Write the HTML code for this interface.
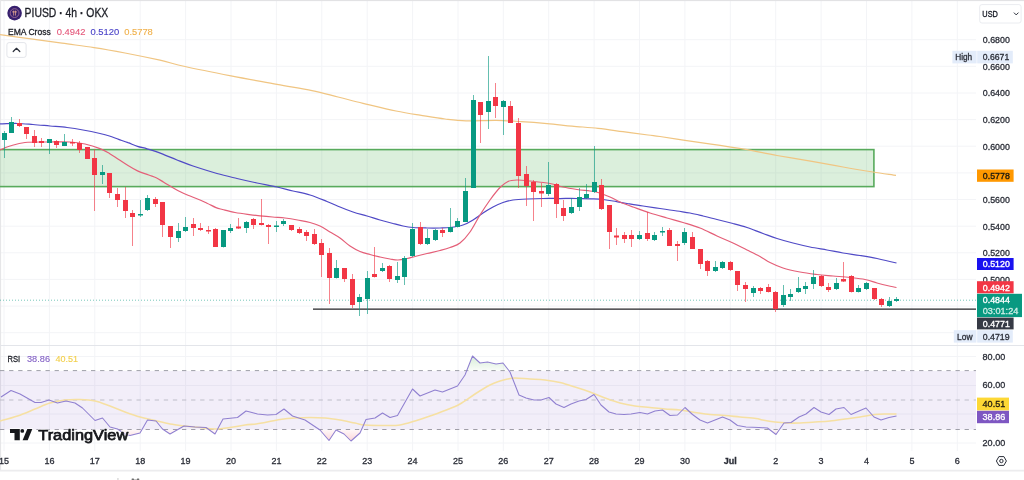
<!DOCTYPE html>
<html lang="en"><head><meta charset="utf-8"><title>PIUSD 4h OKX - TradingView</title>
<style>
html,body{margin:0;padding:0;background:#fff;}
body{width:1024px;height:480px;overflow:hidden;position:relative;font-family:"Liberation Sans",sans-serif;}
svg text{font-family:"Liberation Sans",sans-serif;}
svg{filter:blur(0.45px);}
</style></head><body>
<svg width="1024" height="480" viewBox="0 0 1024 480" style="position:absolute;left:0;top:0;font-family:'Liberation Sans',sans-serif">
<rect x="0" y="0" width="1024" height="480" fill="#fff"/>
<line x1="4.0" y1="1" x2="4.0" y2="451" stroke="#f3f4f7" stroke-width="1"/>
<line x1="49.4" y1="1" x2="49.4" y2="451" stroke="#f3f4f7" stroke-width="1"/>
<line x1="94.8" y1="1" x2="94.8" y2="451" stroke="#f3f4f7" stroke-width="1"/>
<line x1="140.2" y1="1" x2="140.2" y2="451" stroke="#f3f4f7" stroke-width="1"/>
<line x1="185.6" y1="1" x2="185.6" y2="451" stroke="#f3f4f7" stroke-width="1"/>
<line x1="231.0" y1="1" x2="231.0" y2="451" stroke="#f3f4f7" stroke-width="1"/>
<line x1="276.4" y1="1" x2="276.4" y2="451" stroke="#f3f4f7" stroke-width="1"/>
<line x1="321.8" y1="1" x2="321.8" y2="451" stroke="#f3f4f7" stroke-width="1"/>
<line x1="367.2" y1="1" x2="367.2" y2="451" stroke="#f3f4f7" stroke-width="1"/>
<line x1="412.6" y1="1" x2="412.6" y2="451" stroke="#f3f4f7" stroke-width="1"/>
<line x1="458.0" y1="1" x2="458.0" y2="451" stroke="#f3f4f7" stroke-width="1"/>
<line x1="503.3" y1="1" x2="503.3" y2="451" stroke="#f3f4f7" stroke-width="1"/>
<line x1="548.7" y1="1" x2="548.7" y2="451" stroke="#f3f4f7" stroke-width="1"/>
<line x1="594.1" y1="1" x2="594.1" y2="451" stroke="#f3f4f7" stroke-width="1"/>
<line x1="639.5" y1="1" x2="639.5" y2="451" stroke="#f3f4f7" stroke-width="1"/>
<line x1="684.9" y1="1" x2="684.9" y2="451" stroke="#f3f4f7" stroke-width="1"/>
<line x1="730.3" y1="1" x2="730.3" y2="451" stroke="#f3f4f7" stroke-width="1"/>
<line x1="775.7" y1="1" x2="775.7" y2="451" stroke="#f3f4f7" stroke-width="1"/>
<line x1="821.1" y1="1" x2="821.1" y2="451" stroke="#f3f4f7" stroke-width="1"/>
<line x1="866.5" y1="1" x2="866.5" y2="451" stroke="#f3f4f7" stroke-width="1"/>
<line x1="911.9" y1="1" x2="911.9" y2="451" stroke="#f3f4f7" stroke-width="1"/>
<line x1="957.3" y1="1" x2="957.3" y2="451" stroke="#f3f4f7" stroke-width="1"/>
<line x1="0" y1="39.7" x2="976" y2="39.7" stroke="#f3f4f7" stroke-width="1"/>
<line x1="0" y1="66.3" x2="976" y2="66.3" stroke="#f3f4f7" stroke-width="1"/>
<line x1="0" y1="93.0" x2="976" y2="93.0" stroke="#f3f4f7" stroke-width="1"/>
<line x1="0" y1="119.6" x2="976" y2="119.6" stroke="#f3f4f7" stroke-width="1"/>
<line x1="0" y1="146.2" x2="976" y2="146.2" stroke="#f3f4f7" stroke-width="1"/>
<line x1="0" y1="172.9" x2="976" y2="172.9" stroke="#f3f4f7" stroke-width="1"/>
<line x1="0" y1="199.5" x2="976" y2="199.5" stroke="#f3f4f7" stroke-width="1"/>
<line x1="0" y1="226.2" x2="976" y2="226.2" stroke="#f3f4f7" stroke-width="1"/>
<line x1="0" y1="252.8" x2="976" y2="252.8" stroke="#f3f4f7" stroke-width="1"/>
<line x1="0" y1="279.4" x2="976" y2="279.4" stroke="#f3f4f7" stroke-width="1"/>
<line x1="0" y1="306.1" x2="976" y2="306.1" stroke="#f3f4f7" stroke-width="1"/>
<line x1="0" y1="332.7" x2="976" y2="332.7" stroke="#f3f4f7" stroke-width="1"/>
<line x1="0" y1="356.5" x2="976" y2="356.5" stroke="#f3f4f7" stroke-width="1"/>
<line x1="0" y1="385.5" x2="976" y2="385.5" stroke="#f3f4f7" stroke-width="1"/>
<line x1="0" y1="414" x2="976" y2="414" stroke="#f3f4f7" stroke-width="1"/>
<line x1="0" y1="443" x2="976" y2="443" stroke="#f3f4f7" stroke-width="1"/>
<rect x="0" y="0" width="1024" height="1.1" fill="#e2e2e4"/>
<rect x="0" y="0" width="1.1" height="470" fill="#e6e6e8"/>
<line x1="0" y1="345.5" x2="1024" y2="345.5" stroke="#e3e5ea" stroke-width="1.2"/>
<line x1="0" y1="470.6" x2="1024" y2="470.6" stroke="#ececee" stroke-width="1.7"/>
<rect x="-5" y="149.6" width="878.9" height="37" fill="#4caf50" fill-opacity="0.2" stroke="#58aa5c" stroke-width="1.6"/>
<path d="M0.0,34.6 C5.2,35.3 20.7,37.5 31.0,38.9 C41.3,40.3 51.5,41.8 62.0,43.2 C72.5,44.7 83.5,46.0 94.0,47.6 C104.5,49.2 114.0,50.9 125.0,53.0 C136.0,55.1 150.0,58.0 160.0,60.2 C170.0,62.5 173.2,63.9 185.0,66.5 C196.8,69.1 215.7,72.9 231.0,75.9 C246.3,78.9 263.5,81.8 277.0,84.3 C290.5,86.8 301.8,88.5 312.0,90.6 C322.2,92.7 329.5,94.9 338.0,97.0 C346.5,99.1 353.3,101.0 363.0,103.3 C372.7,105.6 386.5,109.0 396.0,111.0 C405.5,113.0 411.8,113.9 420.0,115.2 C428.2,116.5 437.3,118.1 445.0,119.0 C452.7,119.9 457.5,120.6 466.0,120.8 C474.5,121.0 486.8,120.3 496.0,120.4 C505.2,120.5 512.5,121.1 521.0,121.6 C529.5,122.1 538.5,122.8 547.0,123.6 C555.5,124.3 563.5,125.3 572.0,126.1 C580.5,126.9 589.5,127.5 598.0,128.4 C606.5,129.3 614.7,130.6 623.0,131.7 C631.3,132.8 641.8,134.2 648.0,135.0 C654.2,135.8 653.8,135.6 660.0,136.5 C666.2,137.4 676.5,139.0 685.0,140.3 C693.5,141.6 701.2,142.6 711.0,144.1 C720.8,145.6 733.0,147.3 744.0,149.2 C755.0,151.1 765.7,153.5 777.0,155.5 C788.3,157.5 801.0,159.5 812.0,161.4 C823.0,163.3 832.8,165.2 843.0,167.0 C853.2,168.8 864.2,170.6 873.0,172.0 C881.8,173.4 892.2,174.8 896.0,175.4" fill="none" stroke="#f0c582" stroke-width="1.2" stroke-linejoin="round"/>
<line x1="0" y1="300.2" x2="976" y2="300.2" stroke="#089981" stroke-width="1" stroke-dasharray="1 2" opacity="0.55"/>
<line x1="313" y1="309" x2="976" y2="309" stroke="#222226" stroke-width="1.25"/>
<path d="M0.0,124.0 C2.8,123.9 11.5,123.4 17.0,123.5 C22.5,123.6 27.5,124.1 33.0,124.5 C38.5,124.9 44.3,125.5 50.0,126.0 C55.7,126.5 61.5,126.8 67.0,127.5 C72.5,128.2 77.5,129.0 83.0,130.0 C88.5,131.0 95.6,132.5 100.0,133.5 C104.4,134.5 106.3,135.0 109.4,136.0 C112.5,137.0 115.6,138.3 118.7,139.4 C121.8,140.5 124.9,141.5 128.0,142.7 C131.1,143.8 134.3,145.3 137.5,146.3 C140.7,147.3 143.9,147.9 147.0,148.8 C150.1,149.7 153.1,150.5 156.2,151.6 C159.3,152.7 162.1,153.9 165.6,155.3 C169.1,156.7 172.4,158.2 177.0,160.0 C181.6,161.8 186.3,163.8 193.0,166.0 C199.7,168.2 209.7,171.4 217.0,173.5 C224.3,175.6 230.3,176.9 237.0,178.5 C243.7,180.1 250.3,181.6 257.0,183.0 C263.7,184.4 271.0,185.7 277.0,187.0 C283.0,188.3 287.5,189.7 293.0,191.0 C298.5,192.3 304.3,193.2 310.0,195.0 C315.7,196.8 322.0,199.5 327.0,201.5 C332.0,203.5 335.7,205.2 340.0,207.0 C344.3,208.8 348.5,210.5 353.0,212.0 C357.5,213.5 362.5,214.7 367.0,216.0 C371.5,217.3 375.7,218.8 380.0,220.0 C384.3,221.2 389.2,222.5 393.0,223.5 C396.8,224.5 399.7,225.3 403.0,226.0 C406.3,226.7 409.0,227.2 413.0,227.5 C417.0,227.8 422.5,227.9 427.0,228.0 C431.5,228.1 436.2,228.1 440.0,228.0 C443.8,227.9 446.2,228.0 450.0,227.5 C453.8,227.0 459.2,226.2 463.0,225.0 C466.8,223.8 469.7,222.0 473.0,220.0 C476.3,218.0 479.7,215.2 483.0,213.0 C486.3,210.8 489.7,208.8 493.0,207.0 C496.3,205.2 499.7,203.7 503.0,202.5 C506.3,201.3 509.0,200.6 513.0,200.0 C517.0,199.4 522.0,199.2 527.0,199.0 C532.0,198.8 537.5,198.6 543.0,198.5 C548.5,198.4 554.3,198.5 560.0,198.5 C565.7,198.5 571.5,198.4 577.0,198.5 C582.5,198.6 588.7,198.6 593.0,198.8 C597.3,199.0 599.7,199.1 603.0,199.5 C606.3,199.9 609.0,200.3 613.0,201.0 C617.0,201.7 622.0,202.7 627.0,203.5 C632.0,204.3 637.5,205.2 643.0,206.0 C648.5,206.8 654.3,207.7 660.0,208.5 C665.7,209.3 672.0,210.2 677.0,211.0 C682.0,211.8 685.7,212.2 690.0,213.0 C694.3,213.8 698.5,214.9 703.0,216.0 C707.5,217.1 712.0,218.2 717.0,219.5 C722.0,220.8 728.0,222.2 733.0,223.5 C738.0,224.8 742.0,225.8 747.0,227.5 C752.0,229.2 758.0,231.7 763.0,233.5 C768.0,235.3 772.0,236.9 777.0,238.5 C782.0,240.1 787.5,241.6 793.0,243.0 C798.5,244.4 804.3,245.8 810.0,247.0 C815.7,248.2 821.5,249.0 827.0,250.0 C832.5,251.0 837.5,252.1 843.0,253.0 C848.5,253.9 854.3,254.6 860.0,255.5 C865.7,256.4 870.9,257.2 877.0,258.5 C883.1,259.8 893.2,262.2 896.5,263.0" fill="none" stroke="#504ac6" stroke-width="1.25" stroke-linejoin="round"/>
<path d="M0.0,150.0 C1.7,149.3 5.8,147.2 10.0,146.0 C14.2,144.8 18.3,143.2 25.0,142.5 C31.7,141.8 42.5,142.1 50.0,142.0 C57.5,141.9 64.2,141.7 70.0,142.0 C75.8,142.3 80.0,142.9 85.0,144.0 C90.0,145.1 95.9,147.0 100.0,148.6 C104.1,150.2 106.3,151.6 109.4,153.4 C112.5,155.2 115.6,157.6 118.7,159.6 C121.8,161.6 124.9,163.7 128.0,165.6 C131.1,167.5 134.1,169.3 137.5,170.9 C140.9,172.5 145.6,173.8 148.7,175.0 C151.8,176.2 153.7,176.6 156.2,177.8 C158.7,179.0 161.2,180.7 163.7,182.2 C166.2,183.7 168.7,185.3 171.2,186.8 C173.7,188.3 175.9,189.6 178.7,191.0 C181.5,192.4 184.9,194.0 188.0,195.3 C191.1,196.6 194.3,197.7 197.5,199.0 C200.7,200.3 203.9,201.8 207.0,203.2 C210.1,204.6 213.4,206.5 216.0,207.6 C218.6,208.7 219.3,208.7 222.5,209.5 C225.7,210.3 230.8,211.7 235.0,212.5 C239.2,213.3 243.3,213.8 247.5,214.3 C251.7,214.9 255.8,215.4 260.0,215.8 C264.2,216.2 268.3,216.6 272.5,217.0 C276.7,217.4 280.8,217.5 285.0,218.0 C289.2,218.5 293.3,219.2 297.5,220.0 C301.7,220.8 306.2,221.5 310.0,222.5 C313.8,223.5 316.7,224.4 320.0,226.0 C323.3,227.6 326.7,230.0 330.0,232.0 C333.3,234.0 336.7,235.7 340.0,238.0 C343.3,240.3 346.7,243.8 350.0,246.0 C353.3,248.2 356.7,250.1 360.0,251.5 C363.3,252.9 366.7,253.6 370.0,254.5 C373.3,255.4 376.7,256.2 380.0,257.0 C383.3,257.8 387.0,258.5 390.0,259.0 C393.0,259.5 395.2,260.1 398.0,260.0 C400.8,259.9 404.2,259.1 407.0,258.5 C409.8,257.9 411.7,257.3 415.0,256.5 C418.3,255.7 422.8,254.5 427.0,253.5 C431.2,252.5 436.2,251.5 440.0,250.5 C443.8,249.5 446.7,248.8 450.0,247.5 C453.3,246.2 456.7,245.6 460.0,243.0 C463.3,240.4 466.7,236.7 470.0,232.0 C473.3,227.3 476.7,220.3 480.0,215.0 C483.3,209.7 486.7,204.6 490.0,200.0 C493.3,195.4 497.0,190.6 500.0,187.5 C503.0,184.4 505.2,182.8 508.0,181.5 C510.8,180.2 513.3,180.1 517.0,180.0 C520.7,179.9 524.5,180.4 530.0,181.0 C535.5,181.6 544.5,182.5 550.0,183.5 C555.5,184.5 558.5,186.0 563.0,187.0 C567.5,188.0 572.5,188.8 577.0,189.5 C581.5,190.2 586.5,190.5 590.0,191.0 C593.5,191.5 594.7,191.5 598.0,192.5 C601.3,193.5 606.3,195.4 610.0,197.0 C613.7,198.6 616.2,200.3 620.0,202.0 C623.8,203.7 628.0,205.2 633.0,207.0 C638.0,208.8 644.3,211.2 650.0,213.0 C655.7,214.8 661.5,216.4 667.0,218.0 C672.5,219.6 677.5,220.8 683.0,222.5 C688.5,224.2 694.3,225.8 700.0,228.0 C705.7,230.2 711.5,233.5 717.0,236.0 C722.5,238.5 728.0,240.7 733.0,243.0 C738.0,245.3 742.5,247.8 747.0,250.0 C751.5,252.2 756.2,254.4 760.0,256.5 C763.8,258.6 766.2,260.6 770.0,262.5 C773.8,264.4 778.0,266.4 783.0,268.0 C788.0,269.6 794.3,270.9 800.0,272.0 C805.7,273.1 811.5,273.8 817.0,274.5 C822.5,275.2 827.5,275.5 833.0,276.0 C838.5,276.5 844.7,276.9 850.0,277.5 C855.3,278.1 860.5,278.6 865.0,279.5 C869.5,280.4 873.3,282.0 877.0,283.0 C880.7,284.0 883.8,284.8 887.0,285.5 C890.2,286.2 894.9,287.2 896.5,287.5" fill="none" stroke="#e45f78" stroke-width="1.2" stroke-linejoin="round"/>
<line x1="4.50" y1="131" x2="4.50" y2="158" stroke="#089981" stroke-width="1" opacity="0.62"/>
<rect x="2.00" y="133" width="5.0" height="7.0" fill="#089981"/>
<line x1="11.50" y1="117" x2="11.50" y2="133" stroke="#089981" stroke-width="1" opacity="0.62"/>
<rect x="9.00" y="122" width="5.0" height="11.0" fill="#089981"/>
<line x1="19.50" y1="119" x2="19.50" y2="127" stroke="#f23645" stroke-width="1" opacity="0.62"/>
<rect x="17.00" y="123" width="5.0" height="3.0" fill="#f23645"/>
<line x1="26.50" y1="127" x2="26.50" y2="139" stroke="#f23645" stroke-width="1" opacity="0.62"/>
<rect x="24.00" y="127" width="5.0" height="7.0" fill="#f23645"/>
<line x1="34.50" y1="130" x2="34.50" y2="147" stroke="#f23645" stroke-width="1" opacity="0.62"/>
<rect x="32.00" y="136" width="5.0" height="7.0" fill="#f23645"/>
<line x1="41.50" y1="138" x2="41.50" y2="147" stroke="#f23645" stroke-width="1" opacity="0.62"/>
<rect x="39.00" y="141" width="5.0" height="2.0" fill="#f23645"/>
<line x1="49.50" y1="139" x2="49.50" y2="154" stroke="#089981" stroke-width="1" opacity="0.62"/>
<rect x="47.00" y="139" width="5.0" height="4.0" fill="#089981"/>
<line x1="56.50" y1="140" x2="56.50" y2="148" stroke="#f23645" stroke-width="1" opacity="0.62"/>
<rect x="54.00" y="141" width="5.0" height="4.0" fill="#f23645"/>
<line x1="64.50" y1="134" x2="64.50" y2="146" stroke="#089981" stroke-width="1" opacity="0.62"/>
<rect x="62.00" y="142" width="5.0" height="4.0" fill="#089981"/>
<line x1="72.50" y1="139" x2="72.50" y2="146" stroke="#f23645" stroke-width="1" opacity="0.62"/>
<rect x="70.00" y="142" width="5.0" height="1.5" fill="#f23645"/>
<line x1="79.50" y1="141" x2="79.50" y2="153" stroke="#f23645" stroke-width="1" opacity="0.62"/>
<rect x="77.00" y="143" width="5.0" height="7.0" fill="#f23645"/>
<line x1="87.50" y1="147" x2="87.50" y2="159" stroke="#f23645" stroke-width="1" opacity="0.62"/>
<rect x="85.00" y="147" width="5.0" height="12.0" fill="#f23645"/>
<line x1="94.50" y1="149" x2="94.50" y2="211" stroke="#f23645" stroke-width="1" opacity="0.62"/>
<rect x="92.00" y="158" width="5.0" height="17.0" fill="#f23645"/>
<line x1="102.50" y1="165" x2="102.50" y2="184" stroke="#089981" stroke-width="1" opacity="0.62"/>
<rect x="100.00" y="172" width="5.0" height="3.0" fill="#089981"/>
<line x1="109.50" y1="173" x2="109.50" y2="198" stroke="#f23645" stroke-width="1" opacity="0.62"/>
<rect x="107.00" y="173" width="5.0" height="20.0" fill="#f23645"/>
<line x1="117.50" y1="188" x2="117.50" y2="207" stroke="#f23645" stroke-width="1" opacity="0.62"/>
<rect x="115.00" y="194" width="5.0" height="6.0" fill="#f23645"/>
<line x1="125.50" y1="187" x2="125.50" y2="218" stroke="#f23645" stroke-width="1" opacity="0.62"/>
<rect x="123.00" y="200" width="5.0" height="11.0" fill="#f23645"/>
<line x1="132.50" y1="210" x2="132.50" y2="246" stroke="#f23645" stroke-width="1" opacity="0.62"/>
<rect x="130.00" y="213" width="5.0" height="4.0" fill="#f23645"/>
<line x1="140.50" y1="200" x2="140.50" y2="217" stroke="#089981" stroke-width="1" opacity="0.62"/>
<rect x="138.00" y="214" width="5.0" height="1.5" fill="#089981"/>
<line x1="147.50" y1="195" x2="147.50" y2="211" stroke="#089981" stroke-width="1" opacity="0.62"/>
<rect x="145.00" y="198" width="5.0" height="12.0" fill="#089981"/>
<line x1="155.50" y1="197" x2="155.50" y2="207" stroke="#f23645" stroke-width="1" opacity="0.62"/>
<rect x="153.00" y="199" width="5.0" height="5.0" fill="#f23645"/>
<line x1="162.50" y1="202" x2="162.50" y2="237" stroke="#f23645" stroke-width="1" opacity="0.62"/>
<rect x="160.00" y="202" width="5.0" height="23.0" fill="#f23645"/>
<line x1="170.50" y1="226" x2="170.50" y2="248" stroke="#f23645" stroke-width="1" opacity="0.62"/>
<rect x="168.00" y="226" width="5.0" height="11.0" fill="#f23645"/>
<line x1="178.50" y1="223" x2="178.50" y2="242" stroke="#089981" stroke-width="1" opacity="0.62"/>
<rect x="176.00" y="231" width="5.0" height="7.0" fill="#089981"/>
<line x1="185.50" y1="217" x2="185.50" y2="232" stroke="#089981" stroke-width="1" opacity="0.62"/>
<rect x="183.00" y="227" width="5.0" height="4.0" fill="#089981"/>
<line x1="193.50" y1="218" x2="193.50" y2="236" stroke="#f23645" stroke-width="1" opacity="0.62"/>
<rect x="191.00" y="224" width="5.0" height="4.0" fill="#f23645"/>
<line x1="200.50" y1="223" x2="200.50" y2="231" stroke="#f23645" stroke-width="1" opacity="0.62"/>
<rect x="198.00" y="228" width="5.0" height="2.0" fill="#f23645"/>
<line x1="208.50" y1="226" x2="208.50" y2="234" stroke="#f23645" stroke-width="1" opacity="0.62"/>
<rect x="206.00" y="230" width="5.0" height="1.5" fill="#f23645"/>
<line x1="215.50" y1="228" x2="215.50" y2="247" stroke="#f23645" stroke-width="1" opacity="0.62"/>
<rect x="213.00" y="229" width="5.0" height="18.0" fill="#f23645"/>
<line x1="223.50" y1="230" x2="223.50" y2="247.5" stroke="#089981" stroke-width="1" opacity="0.62"/>
<rect x="221.00" y="230" width="5.0" height="17.0" fill="#089981"/>
<line x1="230.50" y1="224" x2="230.50" y2="233" stroke="#089981" stroke-width="1" opacity="0.62"/>
<rect x="228.00" y="228" width="5.0" height="3.0" fill="#089981"/>
<line x1="238.50" y1="218" x2="238.50" y2="229" stroke="#f23645" stroke-width="1" opacity="0.62"/>
<rect x="236.00" y="226.5" width="5.0" height="2.0" fill="#f23645"/>
<line x1="246.50" y1="221" x2="246.50" y2="233" stroke="#089981" stroke-width="1" opacity="0.62"/>
<rect x="244.00" y="222" width="5.0" height="6.0" fill="#089981"/>
<line x1="253.50" y1="218" x2="253.50" y2="229" stroke="#f23645" stroke-width="1" opacity="0.62"/>
<rect x="251.00" y="219" width="5.0" height="6.0" fill="#f23645"/>
<line x1="261.50" y1="199" x2="261.50" y2="225.5" stroke="#f23645" stroke-width="1" opacity="0.62"/>
<rect x="259.00" y="223" width="5.0" height="2.0" fill="#f23645"/>
<line x1="268.50" y1="224" x2="268.50" y2="244" stroke="#f23645" stroke-width="1" opacity="0.62"/>
<rect x="266.00" y="225" width="5.0" height="2.0" fill="#f23645"/>
<line x1="276.50" y1="221" x2="276.50" y2="232" stroke="#089981" stroke-width="1" opacity="0.62"/>
<rect x="274.00" y="225.5" width="5.0" height="1.5" fill="#089981"/>
<line x1="283.50" y1="219" x2="283.50" y2="226" stroke="#089981" stroke-width="1" opacity="0.62"/>
<rect x="281.00" y="221" width="5.0" height="3.0" fill="#089981"/>
<line x1="291.50" y1="225" x2="291.50" y2="231" stroke="#f23645" stroke-width="1" opacity="0.62"/>
<rect x="289.00" y="225" width="5.0" height="5.0" fill="#f23645"/>
<line x1="299.50" y1="227" x2="299.50" y2="234" stroke="#f23645" stroke-width="1" opacity="0.62"/>
<rect x="297.00" y="229" width="5.0" height="4.0" fill="#f23645"/>
<line x1="306.50" y1="230" x2="306.50" y2="241" stroke="#f23645" stroke-width="1" opacity="0.62"/>
<rect x="304.00" y="232" width="5.0" height="4.0" fill="#f23645"/>
<line x1="314.50" y1="229" x2="314.50" y2="245" stroke="#f23645" stroke-width="1" opacity="0.62"/>
<rect x="312.00" y="234" width="5.0" height="10.0" fill="#f23645"/>
<line x1="321.50" y1="239" x2="321.50" y2="277" stroke="#f23645" stroke-width="1" opacity="0.62"/>
<rect x="319.00" y="243" width="5.0" height="12.0" fill="#f23645"/>
<line x1="329.50" y1="248" x2="329.50" y2="304" stroke="#f23645" stroke-width="1" opacity="0.62"/>
<rect x="327.00" y="253" width="5.0" height="25.0" fill="#f23645"/>
<line x1="336.50" y1="260" x2="336.50" y2="278.5" stroke="#089981" stroke-width="1" opacity="0.62"/>
<rect x="334.00" y="268" width="5.0" height="10.0" fill="#089981"/>
<line x1="344.50" y1="268" x2="344.50" y2="282" stroke="#f23645" stroke-width="1" opacity="0.62"/>
<rect x="342.00" y="268" width="5.0" height="11.0" fill="#f23645"/>
<line x1="352.50" y1="274" x2="352.50" y2="308" stroke="#f23645" stroke-width="1" opacity="0.62"/>
<rect x="350.00" y="279" width="5.0" height="26.0" fill="#f23645"/>
<line x1="359.50" y1="294" x2="359.50" y2="316" stroke="#089981" stroke-width="1" opacity="0.62"/>
<rect x="357.00" y="297" width="5.0" height="5.0" fill="#089981"/>
<line x1="367.50" y1="271" x2="367.50" y2="314" stroke="#089981" stroke-width="1" opacity="0.62"/>
<rect x="365.00" y="278" width="5.0" height="21.0" fill="#089981"/>
<line x1="374.50" y1="247" x2="374.50" y2="277.5" stroke="#f23645" stroke-width="1" opacity="0.62"/>
<rect x="372.00" y="274" width="5.0" height="3.0" fill="#f23645"/>
<line x1="382.50" y1="263" x2="382.50" y2="272" stroke="#089981" stroke-width="1" opacity="0.62"/>
<rect x="380.00" y="268" width="5.0" height="3.0" fill="#089981"/>
<line x1="389.50" y1="265" x2="389.50" y2="282" stroke="#f23645" stroke-width="1" opacity="0.62"/>
<rect x="387.00" y="266" width="5.0" height="13.0" fill="#f23645"/>
<line x1="397.50" y1="262" x2="397.50" y2="283" stroke="#089981" stroke-width="1" opacity="0.62"/>
<rect x="395.00" y="276" width="5.0" height="4.0" fill="#089981"/>
<line x1="404.50" y1="256" x2="404.50" y2="285" stroke="#089981" stroke-width="1" opacity="0.62"/>
<rect x="402.00" y="258" width="5.0" height="19.0" fill="#089981"/>
<line x1="412.50" y1="223" x2="412.50" y2="257" stroke="#089981" stroke-width="1" opacity="0.62"/>
<rect x="410.00" y="229" width="5.0" height="27.0" fill="#089981"/>
<line x1="420.50" y1="222" x2="420.50" y2="245" stroke="#f23645" stroke-width="1" opacity="0.62"/>
<rect x="418.00" y="227" width="5.0" height="17.0" fill="#f23645"/>
<line x1="427.50" y1="229" x2="427.50" y2="245" stroke="#089981" stroke-width="1" opacity="0.62"/>
<rect x="425.00" y="238" width="5.0" height="6.0" fill="#089981"/>
<line x1="435.50" y1="229" x2="435.50" y2="241" stroke="#089981" stroke-width="1" opacity="0.62"/>
<rect x="433.00" y="230" width="5.0" height="10.0" fill="#089981"/>
<line x1="442.50" y1="228" x2="442.50" y2="237" stroke="#f23645" stroke-width="1" opacity="0.62"/>
<rect x="440.00" y="230" width="5.0" height="3.0" fill="#f23645"/>
<line x1="450.50" y1="208" x2="450.50" y2="232.5" stroke="#089981" stroke-width="1" opacity="0.62"/>
<rect x="448.00" y="227" width="5.0" height="5.0" fill="#089981"/>
<line x1="457.50" y1="218" x2="457.50" y2="227.5" stroke="#089981" stroke-width="1" opacity="0.62"/>
<rect x="455.00" y="221" width="5.0" height="6.0" fill="#089981"/>
<line x1="465.50" y1="178" x2="465.50" y2="222" stroke="#089981" stroke-width="1" opacity="0.62"/>
<rect x="463.00" y="191" width="5.0" height="31.0" fill="#089981"/>
<line x1="473.50" y1="95" x2="473.50" y2="188" stroke="#089981" stroke-width="1" opacity="0.62"/>
<rect x="471.00" y="100" width="5.0" height="88.0" fill="#089981"/>
<line x1="480.50" y1="102" x2="480.50" y2="143" stroke="#f23645" stroke-width="1" opacity="0.62"/>
<rect x="478.00" y="102" width="5.0" height="13.0" fill="#f23645"/>
<line x1="488.50" y1="56" x2="488.50" y2="129" stroke="#089981" stroke-width="1" opacity="0.62"/>
<rect x="486.00" y="101" width="5.0" height="11.0" fill="#089981"/>
<line x1="495.50" y1="83" x2="495.50" y2="118" stroke="#f23645" stroke-width="1" opacity="0.62"/>
<rect x="493.00" y="97" width="5.0" height="9.0" fill="#f23645"/>
<line x1="503.50" y1="100" x2="503.50" y2="135" stroke="#089981" stroke-width="1" opacity="0.62"/>
<rect x="501.00" y="101" width="5.0" height="6.0" fill="#089981"/>
<line x1="510.50" y1="101" x2="510.50" y2="123" stroke="#f23645" stroke-width="1" opacity="0.62"/>
<rect x="508.00" y="106" width="5.0" height="17.0" fill="#f23645"/>
<line x1="518.50" y1="118" x2="518.50" y2="188" stroke="#f23645" stroke-width="1" opacity="0.62"/>
<rect x="516.00" y="123" width="5.0" height="53.0" fill="#f23645"/>
<line x1="526.50" y1="166" x2="526.50" y2="206" stroke="#f23645" stroke-width="1" opacity="0.62"/>
<rect x="524.00" y="174" width="5.0" height="12.0" fill="#f23645"/>
<line x1="533.50" y1="180" x2="533.50" y2="221" stroke="#f23645" stroke-width="1" opacity="0.62"/>
<rect x="531.00" y="182" width="5.0" height="10.0" fill="#f23645"/>
<line x1="541.50" y1="183" x2="541.50" y2="207" stroke="#f23645" stroke-width="1" opacity="0.62"/>
<rect x="539.00" y="191" width="5.0" height="2.5" fill="#f23645"/>
<line x1="548.50" y1="162" x2="548.50" y2="196" stroke="#089981" stroke-width="1" opacity="0.62"/>
<rect x="546.00" y="185" width="5.0" height="9.0" fill="#089981"/>
<line x1="556.50" y1="183" x2="556.50" y2="218" stroke="#f23645" stroke-width="1" opacity="0.62"/>
<rect x="554.00" y="184" width="5.0" height="20.0" fill="#f23645"/>
<line x1="563.50" y1="200" x2="563.50" y2="221" stroke="#f23645" stroke-width="1" opacity="0.62"/>
<rect x="561.00" y="208" width="5.0" height="8.0" fill="#f23645"/>
<line x1="571.50" y1="198" x2="571.50" y2="214" stroke="#089981" stroke-width="1" opacity="0.62"/>
<rect x="569.00" y="207" width="5.0" height="6.0" fill="#089981"/>
<line x1="579.50" y1="188" x2="579.50" y2="211" stroke="#089981" stroke-width="1" opacity="0.62"/>
<rect x="577.00" y="197" width="5.0" height="10.0" fill="#089981"/>
<line x1="586.50" y1="184" x2="586.50" y2="199" stroke="#089981" stroke-width="1" opacity="0.62"/>
<rect x="584.00" y="194" width="5.0" height="4.0" fill="#089981"/>
<line x1="594.50" y1="146" x2="594.50" y2="193" stroke="#089981" stroke-width="1" opacity="0.62"/>
<rect x="592.00" y="182" width="5.0" height="10.0" fill="#089981"/>
<line x1="601.50" y1="179" x2="601.50" y2="210" stroke="#f23645" stroke-width="1" opacity="0.62"/>
<rect x="599.00" y="185" width="5.0" height="24.0" fill="#f23645"/>
<line x1="609.50" y1="205" x2="609.50" y2="249" stroke="#f23645" stroke-width="1" opacity="0.62"/>
<rect x="607.00" y="205" width="5.0" height="27.0" fill="#f23645"/>
<line x1="616.50" y1="228" x2="616.50" y2="245" stroke="#f23645" stroke-width="1" opacity="0.62"/>
<rect x="614.00" y="235.5" width="5.0" height="2.0" fill="#f23645"/>
<line x1="624.50" y1="232" x2="624.50" y2="243" stroke="#f23645" stroke-width="1" opacity="0.62"/>
<rect x="622.00" y="235" width="5.0" height="4.0" fill="#f23645"/>
<line x1="631.50" y1="230" x2="631.50" y2="247" stroke="#f23645" stroke-width="1" opacity="0.62"/>
<rect x="629.00" y="235" width="5.0" height="4.0" fill="#f23645"/>
<line x1="639.50" y1="231" x2="639.50" y2="240" stroke="#089981" stroke-width="1" opacity="0.62"/>
<rect x="637.00" y="235" width="5.0" height="4.0" fill="#089981"/>
<line x1="647.50" y1="212" x2="647.50" y2="241" stroke="#f23645" stroke-width="1" opacity="0.62"/>
<rect x="645.00" y="233" width="5.0" height="6.0" fill="#f23645"/>
<line x1="654.50" y1="232" x2="654.50" y2="241" stroke="#089981" stroke-width="1" opacity="0.62"/>
<rect x="652.00" y="235" width="5.0" height="5.0" fill="#089981"/>
<line x1="662.50" y1="227" x2="662.50" y2="236" stroke="#089981" stroke-width="1" opacity="0.62"/>
<rect x="660.00" y="231" width="5.0" height="1.5" fill="#089981"/>
<line x1="669.50" y1="228" x2="669.50" y2="246" stroke="#f23645" stroke-width="1" opacity="0.62"/>
<rect x="667.00" y="230" width="5.0" height="16.0" fill="#f23645"/>
<line x1="677.50" y1="241" x2="677.50" y2="261" stroke="#f23645" stroke-width="1" opacity="0.62"/>
<rect x="675.00" y="244" width="5.0" height="2.0" fill="#f23645"/>
<line x1="684.50" y1="228" x2="684.50" y2="245" stroke="#089981" stroke-width="1" opacity="0.62"/>
<rect x="682.00" y="232" width="5.0" height="11.0" fill="#089981"/>
<line x1="692.50" y1="232" x2="692.50" y2="249" stroke="#f23645" stroke-width="1" opacity="0.62"/>
<rect x="690.00" y="237" width="5.0" height="12.0" fill="#f23645"/>
<line x1="700.50" y1="249" x2="700.50" y2="269" stroke="#f23645" stroke-width="1" opacity="0.62"/>
<rect x="698.00" y="249" width="5.0" height="15.0" fill="#f23645"/>
<line x1="707.50" y1="260" x2="707.50" y2="276" stroke="#f23645" stroke-width="1" opacity="0.62"/>
<rect x="705.00" y="261" width="5.0" height="10.0" fill="#f23645"/>
<line x1="715.50" y1="261" x2="715.50" y2="272" stroke="#089981" stroke-width="1" opacity="0.62"/>
<rect x="713.00" y="267" width="5.0" height="4.0" fill="#089981"/>
<line x1="722.50" y1="261" x2="722.50" y2="269" stroke="#089981" stroke-width="1" opacity="0.62"/>
<rect x="720.00" y="262" width="5.0" height="6.0" fill="#089981"/>
<line x1="730.50" y1="261" x2="730.50" y2="271" stroke="#f23645" stroke-width="1" opacity="0.62"/>
<rect x="728.00" y="262" width="5.0" height="8.0" fill="#f23645"/>
<line x1="737.50" y1="271" x2="737.50" y2="291" stroke="#f23645" stroke-width="1" opacity="0.62"/>
<rect x="735.00" y="271" width="5.0" height="14.0" fill="#f23645"/>
<line x1="745.50" y1="282" x2="745.50" y2="302" stroke="#f23645" stroke-width="1" opacity="0.62"/>
<rect x="743.00" y="285" width="5.0" height="4.0" fill="#f23645"/>
<line x1="753.50" y1="286" x2="753.50" y2="297" stroke="#089981" stroke-width="1" opacity="0.62"/>
<rect x="751.00" y="288" width="5.0" height="5.0" fill="#089981"/>
<line x1="760.50" y1="287" x2="760.50" y2="294" stroke="#f23645" stroke-width="1" opacity="0.62"/>
<rect x="758.00" y="288" width="5.0" height="3.0" fill="#f23645"/>
<line x1="768.50" y1="284" x2="768.50" y2="292.5" stroke="#f23645" stroke-width="1" opacity="0.62"/>
<rect x="766.00" y="287" width="5.0" height="5.0" fill="#f23645"/>
<line x1="775.50" y1="291" x2="775.50" y2="312" stroke="#f23645" stroke-width="1" opacity="0.62"/>
<rect x="773.00" y="292" width="5.0" height="17.0" fill="#f23645"/>
<line x1="783.50" y1="285" x2="783.50" y2="307" stroke="#089981" stroke-width="1" opacity="0.62"/>
<rect x="781.00" y="295" width="5.0" height="10.0" fill="#089981"/>
<line x1="790.50" y1="289" x2="790.50" y2="301" stroke="#089981" stroke-width="1" opacity="0.62"/>
<rect x="788.00" y="294" width="5.0" height="3.0" fill="#089981"/>
<line x1="798.50" y1="277" x2="798.50" y2="293" stroke="#089981" stroke-width="1" opacity="0.62"/>
<rect x="796.00" y="288" width="5.0" height="4.0" fill="#089981"/>
<line x1="805.50" y1="282" x2="805.50" y2="294" stroke="#089981" stroke-width="1" opacity="0.62"/>
<rect x="803.00" y="286" width="5.0" height="3.0" fill="#089981"/>
<line x1="813.50" y1="270" x2="813.50" y2="289" stroke="#089981" stroke-width="1" opacity="0.62"/>
<rect x="811.00" y="277" width="5.0" height="7.0" fill="#089981"/>
<line x1="821.50" y1="275" x2="821.50" y2="287" stroke="#f23645" stroke-width="1" opacity="0.62"/>
<rect x="819.00" y="276" width="5.0" height="10.0" fill="#f23645"/>
<line x1="828.50" y1="283" x2="828.50" y2="292" stroke="#f23645" stroke-width="1" opacity="0.62"/>
<rect x="826.00" y="287" width="5.0" height="3.0" fill="#f23645"/>
<line x1="836.50" y1="278" x2="836.50" y2="290" stroke="#089981" stroke-width="1" opacity="0.62"/>
<rect x="834.00" y="283" width="5.0" height="6.0" fill="#089981"/>
<line x1="843.50" y1="262" x2="843.50" y2="282" stroke="#f23645" stroke-width="1" opacity="0.62"/>
<rect x="841.00" y="279" width="5.0" height="2.5" fill="#f23645"/>
<line x1="851.50" y1="275" x2="851.50" y2="292.5" stroke="#f23645" stroke-width="1" opacity="0.62"/>
<rect x="849.00" y="276" width="5.0" height="16.0" fill="#f23645"/>
<line x1="858.50" y1="285" x2="858.50" y2="292.5" stroke="#089981" stroke-width="1" opacity="0.62"/>
<rect x="856.00" y="288" width="5.0" height="4.0" fill="#089981"/>
<line x1="866.50" y1="282" x2="866.50" y2="290" stroke="#089981" stroke-width="1" opacity="0.62"/>
<rect x="864.00" y="283" width="5.0" height="6.0" fill="#089981"/>
<line x1="874.50" y1="288" x2="874.50" y2="300" stroke="#f23645" stroke-width="1" opacity="0.62"/>
<rect x="872.00" y="288" width="5.0" height="11.0" fill="#f23645"/>
<line x1="881.50" y1="298" x2="881.50" y2="307" stroke="#f23645" stroke-width="1" opacity="0.62"/>
<rect x="879.00" y="299" width="5.0" height="6.0" fill="#f23645"/>
<line x1="889.50" y1="297" x2="889.50" y2="307" stroke="#089981" stroke-width="1" opacity="0.62"/>
<rect x="887.00" y="301" width="5.0" height="5.0" fill="#089981"/>
<line x1="896.50" y1="297" x2="896.50" y2="302" stroke="#089981" stroke-width="1" opacity="0.62"/>
<rect x="894.00" y="299" width="5.0" height="2.0" fill="#089981"/>
<rect x="0" y="371" width="976" height="58.5" fill="#7e57c2" fill-opacity="0.1"/>
<line x1="0" y1="370.6" x2="976" y2="370.6" stroke="#9a9aa4" stroke-width="0.95" stroke-dasharray="4.3 4.8"/>
<line x1="0" y1="400" x2="976" y2="400" stroke="#bcbcc6" stroke-width="0.95" stroke-dasharray="4.3 4.8"/>
<line x1="0" y1="429.5" x2="976" y2="429.5" stroke="#9a9aa4" stroke-width="0.95" stroke-dasharray="4.3 4.8"/>
<defs><clipPath id="ob"><rect x="0" y="346" width="976" height="24.8"/></clipPath><clipPath id="os"><rect x="0" y="429.5" width="976" height="22"/></clipPath>
<linearGradient id="gg" gradientUnits="userSpaceOnUse" x1="0" y1="352" x2="0" y2="371"><stop offset="0" stop-color="#4caf50" stop-opacity="0.28"/><stop offset="1" stop-color="#4caf50" stop-opacity="0.03"/></linearGradient>
<linearGradient id="rg" gradientUnits="userSpaceOnUse" x1="0" y1="429.5" x2="0" y2="446"><stop offset="0" stop-color="#f23645" stop-opacity="0.03"/><stop offset="1" stop-color="#f23645" stop-opacity="0.28"/></linearGradient></defs>
<polygon clip-path="url(#ob)" points="0,370.8 1.0,397.0 11.0,390.5 20.0,394.0 35.0,402.5 41.0,402.5 49.0,400.0 57.5,403.0 66.0,401.0 75.0,403.0 82.5,408.0 95.0,420.5 102.5,418.0 110.0,427.0 117.5,429.0 125.0,434.0 130.0,435.5 140.0,433.0 147.5,420.0 156.0,421.0 162.5,429.0 170.0,434.0 184.0,426.0 195.0,427.0 206.0,427.5 215.0,434.0 223.0,419.0 237.5,417.5 246.0,411.0 250.0,412.0 257.5,414.0 267.5,415.0 276.0,414.5 284.0,409.0 292.5,416.0 305.0,420.0 320.0,430.0 329.0,440.5 336.0,430.0 344.0,434.0 351.0,441.0 360.0,433.0 366.0,419.5 375.0,418.0 382.5,413.0 390.0,417.5 397.5,415.5 412.5,389.0 420.0,396.0 435.0,390.0 442.5,392.0 457.5,386.0 465.0,375.0 472.5,356.0 480.0,363.0 487.5,362.0 496.0,364.0 503.0,363.0 510.0,372.0 519.0,395.0 526.0,398.0 534.0,400.0 541.0,400.0 549.0,397.5 556.0,404.0 564.0,407.5 571.0,404.0 579.0,401.0 586.0,399.5 594.0,394.5 601.0,405.0 609.0,412.0 616.0,414.0 624.0,414.5 631.0,414.0 640.0,412.5 647.5,414.0 655.0,411.0 662.5,410.0 670.0,415.5 677.5,415.0 685.0,407.5 692.5,414.5 700.0,420.0 707.5,423.0 715.0,420.0 722.5,417.0 730.0,420.0 737.5,425.5 746.0,427.0 759.0,427.5 767.5,428.0 776.0,434.5 784.0,423.0 791.0,422.5 799.0,417.0 806.0,414.0 814.0,407.5 821.0,412.0 829.0,414.5 836.0,409.0 844.0,407.5 851.0,414.5 859.0,411.0 866.0,408.0 874.0,417.0 881.0,420.0 889.0,417.5 896.5,416.0 900,370.8" fill="url(#gg)"/>
<polygon clip-path="url(#os)" points="0,429.5 1.0,397.0 11.0,390.5 20.0,394.0 35.0,402.5 41.0,402.5 49.0,400.0 57.5,403.0 66.0,401.0 75.0,403.0 82.5,408.0 95.0,420.5 102.5,418.0 110.0,427.0 117.5,429.0 125.0,434.0 130.0,435.5 140.0,433.0 147.5,420.0 156.0,421.0 162.5,429.0 170.0,434.0 184.0,426.0 195.0,427.0 206.0,427.5 215.0,434.0 223.0,419.0 237.5,417.5 246.0,411.0 250.0,412.0 257.5,414.0 267.5,415.0 276.0,414.5 284.0,409.0 292.5,416.0 305.0,420.0 320.0,430.0 329.0,440.5 336.0,430.0 344.0,434.0 351.0,441.0 360.0,433.0 366.0,419.5 375.0,418.0 382.5,413.0 390.0,417.5 397.5,415.5 412.5,389.0 420.0,396.0 435.0,390.0 442.5,392.0 457.5,386.0 465.0,375.0 472.5,356.0 480.0,363.0 487.5,362.0 496.0,364.0 503.0,363.0 510.0,372.0 519.0,395.0 526.0,398.0 534.0,400.0 541.0,400.0 549.0,397.5 556.0,404.0 564.0,407.5 571.0,404.0 579.0,401.0 586.0,399.5 594.0,394.5 601.0,405.0 609.0,412.0 616.0,414.0 624.0,414.5 631.0,414.0 640.0,412.5 647.5,414.0 655.0,411.0 662.5,410.0 670.0,415.5 677.5,415.0 685.0,407.5 692.5,414.5 700.0,420.0 707.5,423.0 715.0,420.0 722.5,417.0 730.0,420.0 737.5,425.5 746.0,427.0 759.0,427.5 767.5,428.0 776.0,434.5 784.0,423.0 791.0,422.5 799.0,417.0 806.0,414.0 814.0,407.5 821.0,412.0 829.0,414.5 836.0,409.0 844.0,407.5 851.0,414.5 859.0,411.0 866.0,408.0 874.0,417.0 881.0,420.0 889.0,417.5 896.5,416.0 900,429.5" fill="url(#rg)"/>
<path d="M0.0,421.0 C2.9,420.2 11.7,418.0 17.5,416.0 C23.3,414.0 29.6,411.2 35.0,409.0 C40.4,406.8 45.0,404.5 50.0,403.0 C55.0,401.5 60.0,400.6 65.0,400.0 C70.0,399.4 75.0,399.3 80.0,399.5 C85.0,399.7 90.0,399.9 95.0,401.0 C100.0,402.1 105.0,404.2 110.0,406.0 C115.0,407.8 120.0,410.2 125.0,412.0 C130.0,413.8 135.0,415.6 140.0,417.0 C145.0,418.4 150.0,419.3 155.0,420.5 C160.0,421.7 165.0,423.1 170.0,424.0 C175.0,424.9 180.0,425.4 185.0,426.0 C190.0,426.6 195.0,427.0 200.0,427.5 C205.0,428.0 210.0,429.0 215.0,429.0 C220.0,429.0 225.0,428.2 230.0,427.5 C235.0,426.8 240.7,425.6 245.0,425.0 C249.3,424.4 252.7,424.4 256.0,424.0 C259.3,423.6 261.0,423.2 265.0,422.5 C269.0,421.8 275.0,420.2 280.0,419.5 C285.0,418.8 290.0,418.3 295.0,418.0 C300.0,417.7 305.0,417.5 310.0,417.5 C315.0,417.5 320.0,417.6 325.0,418.0 C330.0,418.4 335.0,419.2 340.0,420.0 C345.0,420.8 350.8,422.2 355.0,423.0 C359.2,423.8 360.0,424.6 365.0,425.0 C370.0,425.4 379.2,425.5 385.0,425.5 C390.8,425.5 395.0,425.8 400.0,425.0 C405.0,424.2 410.0,422.5 415.0,421.0 C420.0,419.5 425.0,417.8 430.0,416.0 C435.0,414.2 440.0,412.5 445.0,410.5 C450.0,408.5 455.0,406.8 460.0,404.0 C465.0,401.2 470.0,397.2 475.0,394.0 C480.0,390.8 485.8,387.2 490.0,385.0 C494.2,382.8 497.1,382.0 500.0,381.0 C502.9,380.0 505.0,379.5 507.5,379.0 C510.0,378.5 511.2,378.0 515.0,378.0 C518.8,378.0 525.0,378.7 530.0,379.0 C535.0,379.3 540.0,379.4 545.0,380.0 C550.0,380.6 555.0,381.3 560.0,382.5 C565.0,383.7 570.0,385.4 575.0,387.0 C580.0,388.6 585.0,390.2 590.0,392.0 C595.0,393.8 600.0,396.2 605.0,398.0 C610.0,399.8 615.0,401.7 620.0,403.0 C625.0,404.3 630.0,405.2 635.0,406.0 C640.0,406.8 645.0,407.0 650.0,407.5 C655.0,408.0 660.0,408.6 665.0,409.0 C670.0,409.4 675.0,409.4 680.0,410.0 C685.0,410.6 690.0,411.8 695.0,412.5 C700.0,413.2 705.0,414.0 710.0,414.5 C715.0,415.0 720.0,415.1 725.0,415.5 C730.0,415.9 734.8,416.5 740.0,417.0 C745.2,417.5 752.2,418.0 756.0,418.5 C759.8,419.0 759.3,419.4 762.5,420.0 C765.7,420.6 770.8,421.5 775.0,422.0 C779.2,422.5 783.3,422.8 787.5,423.0 C791.7,423.2 795.4,423.2 800.0,423.0 C804.6,422.8 810.0,422.3 815.0,422.0 C820.0,421.7 825.0,421.5 830.0,421.0 C835.0,420.5 840.0,419.7 845.0,419.0 C850.0,418.3 855.0,417.8 860.0,417.0 C865.0,416.2 870.4,415.0 875.0,414.5 C879.6,414.0 883.9,414.1 887.5,414.0 C891.1,413.9 895.0,414.0 896.5,414.0" fill="none" stroke="#f6e0a2" stroke-width="1.55" stroke-linejoin="round"/>
<polyline points="1.0,397.0 11.0,390.5 20.0,394.0 35.0,402.5 41.0,402.5 49.0,400.0 57.5,403.0 66.0,401.0 75.0,403.0 82.5,408.0 95.0,420.5 102.5,418.0 110.0,427.0 117.5,429.0 125.0,434.0 130.0,435.5 140.0,433.0 147.5,420.0 156.0,421.0 162.5,429.0 170.0,434.0 184.0,426.0 195.0,427.0 206.0,427.5 215.0,434.0 223.0,419.0 237.5,417.5 246.0,411.0 250.0,412.0 257.5,414.0 267.5,415.0 276.0,414.5 284.0,409.0 292.5,416.0 305.0,420.0 320.0,430.0 329.0,440.5 336.0,430.0 344.0,434.0 351.0,441.0 360.0,433.0 366.0,419.5 375.0,418.0 382.5,413.0 390.0,417.5 397.5,415.5 412.5,389.0 420.0,396.0 435.0,390.0 442.5,392.0 457.5,386.0 465.0,375.0 472.5,356.0 480.0,363.0 487.5,362.0 496.0,364.0 503.0,363.0 510.0,372.0 519.0,395.0 526.0,398.0 534.0,400.0 541.0,400.0 549.0,397.5 556.0,404.0 564.0,407.5 571.0,404.0 579.0,401.0 586.0,399.5 594.0,394.5 601.0,405.0 609.0,412.0 616.0,414.0 624.0,414.5 631.0,414.0 640.0,412.5 647.5,414.0 655.0,411.0 662.5,410.0 670.0,415.5 677.5,415.0 685.0,407.5 692.5,414.5 700.0,420.0 707.5,423.0 715.0,420.0 722.5,417.0 730.0,420.0 737.5,425.5 746.0,427.0 759.0,427.5 767.5,428.0 776.0,434.5 784.0,423.0 791.0,422.5 799.0,417.0 806.0,414.0 814.0,407.5 821.0,412.0 829.0,414.5 836.0,409.0 844.0,407.5 851.0,414.5 859.0,411.0 866.0,408.0 874.0,417.0 881.0,420.0 889.0,417.5 896.5,416.0" fill="none" stroke="#9080d0" stroke-width="1.05" stroke-linejoin="round"/>
<g transform="translate(14.6,13.1)"><circle r="7.3" fill="#37206e"/><circle r="4.4" fill="none" stroke="#b07a9e" stroke-width="0.75"/><path d="M-2.1,-1.2 H2.1 M-0.95,-1.2 V2.1 M0.95,-1.2 V2.1 M-0.95,-2.1 V-1.2 M0.95,-2.1 V-1.2" stroke="#e2a590" stroke-width="0.8" fill="none" stroke-linecap="round"/></g>
<text x="24.6" y="17.4" font-size="12px" fill="#1c1e26" textLength="83.7" lengthAdjust="spacingAndGlyphs" stroke="#1c1e26" stroke-width="0.3">PIUSD <tspan font-weight="bold">·</tspan> 4h <tspan font-weight="bold">·</tspan> OKX</text>
<text x="8" y="34.9" font-size="9.3px" fill="#1c1e26" textLength="42.7" lengthAdjust="spacingAndGlyphs" stroke="#1c1e26" stroke-width="0.3">EMA Cross</text>
<text x="56.8" y="34.9" font-size="9.3px" fill="#e4577a" stroke="#e4577a" stroke-width="0.12" textLength="28.7" lengthAdjust="spacingAndGlyphs">0.4942</text>
<text x="90.5" y="34.9" font-size="9.3px" fill="#4a43c8" stroke="#4a43c8" stroke-width="0.12" textLength="28.8" lengthAdjust="spacingAndGlyphs">0.5120</text>
<text x="124.2" y="34.9" font-size="9.3px" fill="#f0b04a" stroke="#f0b04a" stroke-width="0.12" textLength="28.6" lengthAdjust="spacingAndGlyphs">0.5778</text>
<rect x="6.9" y="42.6" width="19.2" height="14.8" rx="2.2" fill="#fff" stroke="#e3e5ea" stroke-width="1"/>
<path d="M13.2,51.5 L16.5,48.3 L19.8,51.5" fill="none" stroke="#2a2e39" stroke-width="1.2" stroke-linecap="round" stroke-linejoin="round"/>
<rect x="979.7" y="4.6" width="41.4" height="18.4" rx="2.2" fill="#fff" stroke="#eaecf0" stroke-width="1"/>
<text x="982.3" y="17" font-size="9px" fill="#131722" textLength="15.6" lengthAdjust="spacingAndGlyphs" stroke="#131722" stroke-width="0.3">USD</text>
<path d="M1014.2,12.9 L1016.2,14.9 L1018.2,12.9" fill="none" stroke="#2a2e39" stroke-width="1" stroke-linecap="round" stroke-linejoin="round"/>
<text x="982.8" y="43.0" font-size="9px" fill="#2b2e38" textLength="27" lengthAdjust="spacingAndGlyphs" stroke="#2b2e38" stroke-width="0.3">0.6800</text>
<text x="982.8" y="69.6" font-size="9px" fill="#2b2e38" textLength="27" lengthAdjust="spacingAndGlyphs" stroke="#2b2e38" stroke-width="0.3">0.6600</text>
<text x="982.8" y="96.3" font-size="9px" fill="#2b2e38" textLength="27" lengthAdjust="spacingAndGlyphs" stroke="#2b2e38" stroke-width="0.3">0.6400</text>
<text x="982.8" y="122.9" font-size="9px" fill="#2b2e38" textLength="27" lengthAdjust="spacingAndGlyphs" stroke="#2b2e38" stroke-width="0.3">0.6200</text>
<text x="982.8" y="149.6" font-size="9px" fill="#2b2e38" textLength="27" lengthAdjust="spacingAndGlyphs" stroke="#2b2e38" stroke-width="0.3">0.6000</text>
<text x="982.8" y="202.8" font-size="9px" fill="#2b2e38" textLength="27" lengthAdjust="spacingAndGlyphs" stroke="#2b2e38" stroke-width="0.3">0.5600</text>
<text x="982.8" y="229.5" font-size="9px" fill="#2b2e38" textLength="27" lengthAdjust="spacingAndGlyphs" stroke="#2b2e38" stroke-width="0.3">0.5400</text>
<text x="982.8" y="256.1" font-size="9px" fill="#2b2e38" textLength="27" lengthAdjust="spacingAndGlyphs" stroke="#2b2e38" stroke-width="0.3">0.5200</text>
<text x="982.8" y="282.7" font-size="9px" fill="#2b2e38" textLength="27" lengthAdjust="spacingAndGlyphs" stroke="#2b2e38" stroke-width="0.3">0.5000</text>
<rect x="952.4" y="50.8" width="24.2" height="12.6" fill="#e3ecfa"/>
<rect x="977.2" y="50.8" width="35.6" height="12.6" fill="#e3ecfa"/>
<text x="955.2" y="60.4" font-size="9px" fill="#2b2e38" textLength="17" lengthAdjust="spacingAndGlyphs" stroke="#2b2e38" stroke-width="0.3">High</text>
<text x="982.8" y="60.4" font-size="9px" fill="#2b2e38" textLength="26.4" lengthAdjust="spacingAndGlyphs" stroke="#2b2e38" stroke-width="0.3">0.6671</text>
<rect x="977" y="169.5" width="36.60000000000002" height="12.300000000000011" fill="#ff9800"/>
<text x="982.8" y="179.0" font-size="9px" fill="#1e1a10" stroke="#1e1a10" stroke-width="0.35" textLength="27" lengthAdjust="spacingAndGlyphs">0.5778</text>
<rect x="977" y="258" width="36.60000000000002" height="12" fill="#1a12f0"/>
<text x="982.8" y="267.3" font-size="9px" fill="#ffffff" stroke="#ffffff" stroke-width="0.35" textLength="27" lengthAdjust="spacingAndGlyphs">0.5120</text>
<rect x="977" y="281.2" width="36.60000000000002" height="12.100000000000023" fill="#f23645"/>
<text x="982.8" y="290.6" font-size="9px" fill="#ffffff" stroke="#ffffff" stroke-width="0.35" textLength="27" lengthAdjust="spacingAndGlyphs">0.4942</text>
<rect x="977" y="293.8" width="45" height="23.3" fill="#089981"/>
<text x="982.8" y="302.5" font-size="9px" fill="#ffffff" stroke="#fff" stroke-width="0.35" textLength="27" lengthAdjust="spacingAndGlyphs">0.4844</text>
<text x="982.8" y="313.5" font-size="9px" fill="#cdeee6" textLength="35.5" lengthAdjust="spacingAndGlyphs" stroke="#cdeee6" stroke-width="0.3">03:01:24</text>
<rect x="977" y="317.6" width="36.60000000000002" height="11.799999999999955" fill="#363a45"/>
<text x="982.8" y="326.8" font-size="9px" fill="#ffffff" stroke="#ffffff" stroke-width="0.35" textLength="27" lengthAdjust="spacingAndGlyphs">0.4771</text>
<rect x="953.8" y="330.2" width="22.6" height="12.4" fill="#e3ecfa"/>
<rect x="977.2" y="330.2" width="35.6" height="12.4" fill="#e3ecfa"/>
<text x="957" y="339.7" font-size="9px" fill="#2b2e38" textLength="15.5" lengthAdjust="spacingAndGlyphs" stroke="#2b2e38" stroke-width="0.3">Low</text>
<text x="982.8" y="339.7" font-size="9px" fill="#2b2e38" textLength="26.8" lengthAdjust="spacingAndGlyphs" stroke="#2b2e38" stroke-width="0.3">0.4719</text>
<text x="982.6" y="360.1" font-size="9px" fill="#2b2e38" textLength="22.6" lengthAdjust="spacingAndGlyphs" stroke="#2b2e38" stroke-width="0.3">80.00</text>
<text x="982.6" y="387.9" font-size="9px" fill="#2b2e38" textLength="22.6" lengthAdjust="spacingAndGlyphs" stroke="#2b2e38" stroke-width="0.3">60.00</text>
<text x="982.6" y="445.9" font-size="9px" fill="#2b2e38" textLength="22.6" lengthAdjust="spacingAndGlyphs" stroke="#2b2e38" stroke-width="0.3">20.00</text>
<rect x="977" y="397.6" width="32" height="12.8" fill="#fdd835"/>
<text x="982.6" y="407.4" font-size="9px" fill="#1e1a10" stroke="#1e1a10" stroke-width="0.3" textLength="22.6" lengthAdjust="spacingAndGlyphs">40.51</text>
<rect x="977" y="410.8" width="32" height="12.4" fill="#7e57c2"/>
<text x="982.6" y="420.4" font-size="9px" fill="#ffffff" stroke="#fff" stroke-width="0.3" textLength="22.6" lengthAdjust="spacingAndGlyphs">38.86</text>
<text x="7.6" y="362.2" font-size="9.3px" fill="#1c1e26" textLength="12.6" lengthAdjust="spacingAndGlyphs" stroke="#1c1e26" stroke-width="0.3">RSI</text>
<text x="27" y="362.2" font-size="9.3px" fill="#8462c6" stroke="#8462c6" stroke-width="0.12" textLength="23" lengthAdjust="spacingAndGlyphs">38.86</text>
<text x="55.5" y="362.2" font-size="9.3px" fill="#f2cf4a" stroke="#f2cf4a" stroke-width="0.12" textLength="22.6" lengthAdjust="spacingAndGlyphs">40.51</text>
<text x="4.0" y="464" font-size="9px" fill="#2b2e38" text-anchor="middle" stroke="#2b2e38" stroke-width="0.3">15</text>
<text x="49.4" y="464" font-size="9px" fill="#2b2e38" text-anchor="middle" stroke="#2b2e38" stroke-width="0.3">16</text>
<text x="94.8" y="464" font-size="9px" fill="#2b2e38" text-anchor="middle" stroke="#2b2e38" stroke-width="0.3">17</text>
<text x="140.2" y="464" font-size="9px" fill="#2b2e38" text-anchor="middle" stroke="#2b2e38" stroke-width="0.3">18</text>
<text x="185.6" y="464" font-size="9px" fill="#2b2e38" text-anchor="middle" stroke="#2b2e38" stroke-width="0.3">19</text>
<text x="231.0" y="464" font-size="9px" fill="#2b2e38" text-anchor="middle" stroke="#2b2e38" stroke-width="0.3">20</text>
<text x="276.4" y="464" font-size="9px" fill="#2b2e38" text-anchor="middle" stroke="#2b2e38" stroke-width="0.3">21</text>
<text x="321.8" y="464" font-size="9px" fill="#2b2e38" text-anchor="middle" stroke="#2b2e38" stroke-width="0.3">22</text>
<text x="367.2" y="464" font-size="9px" fill="#2b2e38" text-anchor="middle" stroke="#2b2e38" stroke-width="0.3">23</text>
<text x="412.6" y="464" font-size="9px" fill="#2b2e38" text-anchor="middle" stroke="#2b2e38" stroke-width="0.3">24</text>
<text x="458.0" y="464" font-size="9px" fill="#2b2e38" text-anchor="middle" stroke="#2b2e38" stroke-width="0.3">25</text>
<text x="503.3" y="464" font-size="9px" fill="#2b2e38" text-anchor="middle" stroke="#2b2e38" stroke-width="0.3">26</text>
<text x="548.7" y="464" font-size="9px" fill="#2b2e38" text-anchor="middle" stroke="#2b2e38" stroke-width="0.3">27</text>
<text x="594.1" y="464" font-size="9px" fill="#2b2e38" text-anchor="middle" stroke="#2b2e38" stroke-width="0.3">28</text>
<text x="639.5" y="464" font-size="9px" fill="#2b2e38" text-anchor="middle" stroke="#2b2e38" stroke-width="0.3">29</text>
<text x="684.9" y="464" font-size="9px" fill="#2b2e38" text-anchor="middle" stroke="#2b2e38" stroke-width="0.3">30</text>
<text x="730.3" y="464" font-size="9px" font-weight="bold" fill="#2b2e38" text-anchor="middle" stroke="#2b2e38" stroke-width="0.3">Jul</text>
<text x="775.7" y="464" font-size="9px" fill="#2b2e38" text-anchor="middle" stroke="#2b2e38" stroke-width="0.3">2</text>
<text x="821.1" y="464" font-size="9px" fill="#2b2e38" text-anchor="middle" stroke="#2b2e38" stroke-width="0.3">3</text>
<text x="866.5" y="464" font-size="9px" fill="#2b2e38" text-anchor="middle" stroke="#2b2e38" stroke-width="0.3">4</text>
<text x="911.9" y="464" font-size="9px" fill="#2b2e38" text-anchor="middle" stroke="#2b2e38" stroke-width="0.3">5</text>
<text x="957.3" y="464" font-size="9px" fill="#2b2e38" text-anchor="middle" stroke="#2b2e38" stroke-width="0.3">6</text>
<g transform="translate(1001.4,461)" fill="none" stroke="#2a2e39" stroke-width="1" stroke-linejoin="round"><path d="M-2.5,-4.4 H2.5 L5,0 L2.5,4.4 H-2.5 L-5,0 Z"/><circle r="1.7"/></g>
<g stroke="#fff" stroke-width="1.6" stroke-linejoin="round" fill="#fff" opacity="0.9"><path d="M10,429 H19.8 V440.2 H14.5 V433 H10 Z"/><circle cx="22.3" cy="430.9" r="1.9"/><path d="M22.6,440.2 L27.3,429 H32.3 L27.7,440.2 Z"/><text x="38.3" y="440.2" font-size="15.2px" textLength="89.9" lengthAdjust="spacingAndGlyphs">TradingView</text></g>
<g fill="#17181c"><path d="M10,429 H19.8 V440.2 H14.5 V433 H10 Z"/><circle cx="22.3" cy="430.9" r="1.9"/><path d="M22.6,440.2 L27.3,429 H32.3 L27.7,440.2 Z"/></g>
<g fill="#17181c" stroke="#17181c" stroke-width="0.75" stroke-linejoin="round"><text x="38.3" y="440.2" font-size="15.2px" textLength="89.9" lengthAdjust="spacingAndGlyphs">TradingView</text></g>
<rect x="117.5" y="478" width="0.9" height="2" fill="#c4c4c4"/>
<rect x="131.6" y="478.4" width="2.4" height="1.6" rx="0.6" fill="#4a4a4a" opacity="0.8"/>
<rect x="136.9" y="478.4" width="2.4" height="1.6" rx="0.6" fill="#4a4a4a" opacity="0.8"/>
<rect x="133.9" y="479.2" width="3.1" height="0.8" fill="#8a8a8a" opacity="0.6"/>
</svg>
</body></html>
